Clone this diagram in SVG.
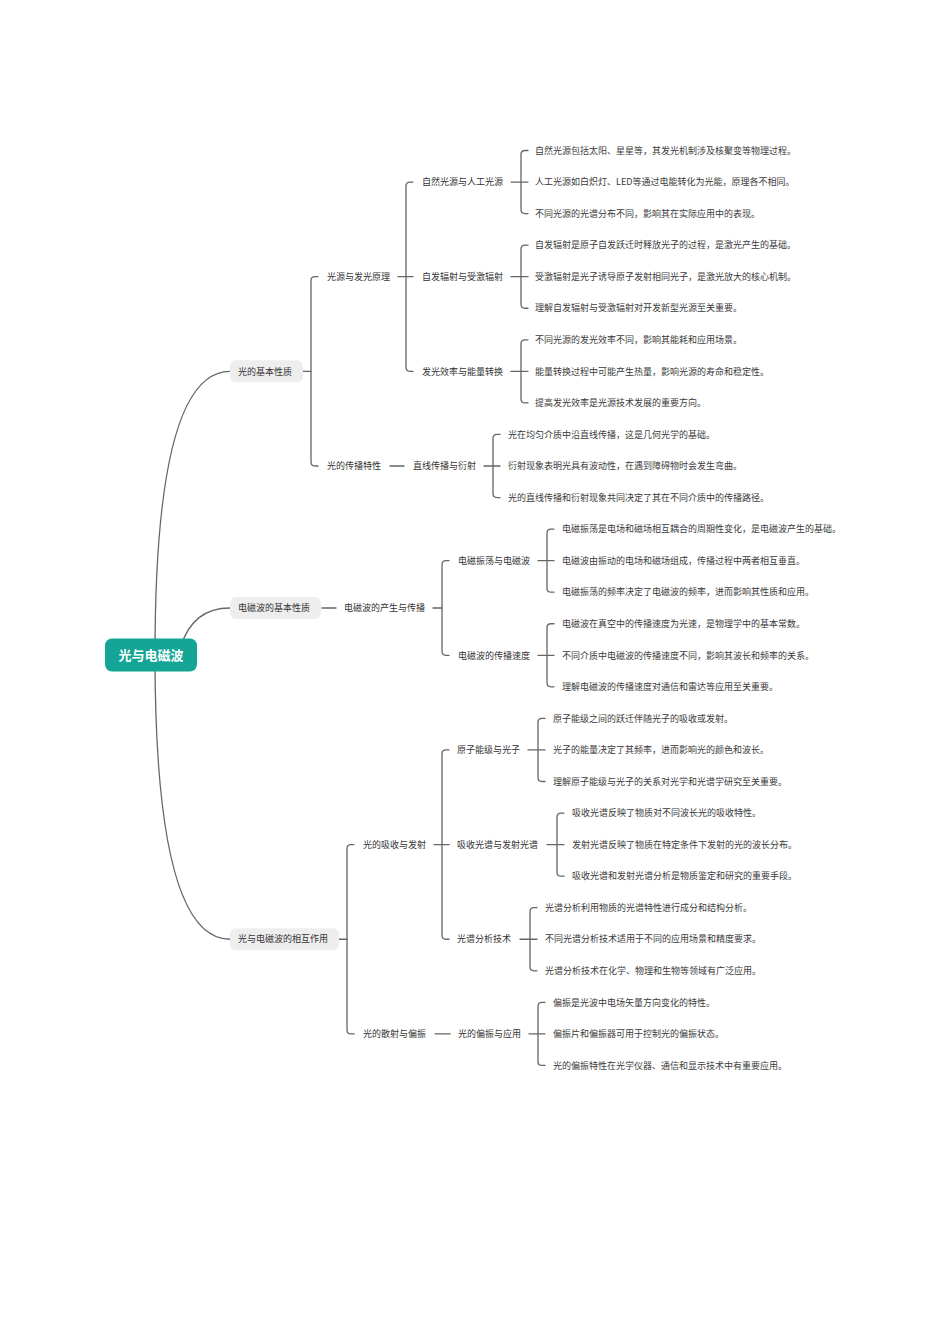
<svg xmlns="http://www.w3.org/2000/svg" width="950" height="1344" viewBox="0 0 950 1344">
<style>
.l{fill:none;stroke:#666;stroke-width:1.3;stroke-linecap:round}
.t{font-family:"Noto Sans CJK SC","Microsoft YaHei",sans-serif;font-size:9px;fill:#333}
.f{font-family:"Noto Sans CJK SC","Microsoft YaHei",sans-serif;font-size:9px;fill:#3a3a3a}
.b1{fill:#eeeeee}
.rt{font-family:"Noto Sans CJK SC","Microsoft YaHei",sans-serif;font-size:13px;font-weight:bold;fill:#fff}
</style>
<rect width="950" height="1344" fill="#fff"/>
<g id="connectors">
<path class="l" d="M155 655 Q155 371.35 230 371.35"/>
<path class="l" d="M181 646 Q193 608 230 608"/>
<path class="l" d="M155 655 Q155 939.25 230 939.25"/>
<path class="l" d="M303 371.35 H311"/>
<path class="l" d="M318 276.7 H315 Q311 276.7 311 280.7 V462 Q311 466 315 466 H318"/>
<path class="l" d="M398 276.7 H413"/>
<path class="l" d="M413 182.05 H410 Q406 182.05 406 186.05 V367.35 Q406 371.35 410 371.35 H413"/>
<path class="l" d="M511 182.05 H528"/>
<path class="l" d="M528 150.5 H525 Q521 150.5 521 154.5 V209.6 Q521 213.6 525 213.6 H528"/>
<path class="l" d="M511 276.7 H528"/>
<path class="l" d="M528 245.15 H525 Q521 245.15 521 249.15 V304.25 Q521 308.25 525 308.25 H528"/>
<path class="l" d="M511 371.35 H528"/>
<path class="l" d="M528 339.8 H525 Q521 339.8 521 343.8 V398.9 Q521 402.9 525 402.9 H528"/>
<path class="l" d="M390 466 H404"/>
<path class="l" d="M484 466 H500"/>
<path class="l" d="M500 434.45 H497 Q493 434.45 493 438.45 V493.55 Q493 497.55 497 497.55 H500"/>
<path class="l" d="M322 608 H336"/>
<path class="l" d="M433 608 H442"/>
<path class="l" d="M449 560.65 H446 Q442 560.65 442 564.65 V651.3 Q442 655.3 446 655.3 H449"/>
<path class="l" d="M538 560.65 H554"/>
<path class="l" d="M554 529.1 H551 Q547 529.1 547 533.1 V588.2 Q547 592.2 551 592.2 H554"/>
<path class="l" d="M538 655.3 H554"/>
<path class="l" d="M554 623.75 H551 Q547 623.75 547 627.75 V682.85 Q547 686.85 551 686.85 H554"/>
<path class="l" d="M339 939.25 H347"/>
<path class="l" d="M354 844.6 H351 Q347 844.6 347 848.6 V1029.9 Q347 1033.9 351 1033.9 H354"/>
<path class="l" d="M434 844.6 H449"/>
<path class="l" d="M449 749.95 H446 Q442 749.95 442 753.95 V935.25 Q442 939.25 446 939.25 H449"/>
<path class="l" d="M528 749.95 H545"/>
<path class="l" d="M545 718.4 H542 Q538 718.4 538 722.4 V777.5 Q538 781.5 542 781.5 H545"/>
<path class="l" d="M547 844.6 H564"/>
<path class="l" d="M564 813.05 H561 Q557 813.05 557 817.05 V872.15 Q557 876.15 561 876.15 H564"/>
<path class="l" d="M520 939.25 H537"/>
<path class="l" d="M537 907.7 H534 Q530 907.7 530 911.7 V966.8 Q530 970.8 534 970.8 H537"/>
<path class="l" d="M435 1033.9 H450"/>
<path class="l" d="M529 1033.9 H545"/>
<path class="l" d="M545 1002.35 H542 Q538 1002.35 538 1006.35 V1061.45 Q538 1065.45 542 1065.45 H545"/>
</g>
<g id="root">
<rect x="105" y="638.5" width="92" height="33" rx="7" fill="#14a596"/>
<text class="rt" x="151" y="659.8" text-anchor="middle">光与电磁波</text>
</g>
<g id="n-b1"><rect class="b1" x="230" y="360.35" width="73" height="22" rx="6"/><text class="t" x="238" y="374.55">光的基本性质</text></g>
<g id="n-b1-1"><text class="t" x="327" y="279.9">光源与发光原理</text></g>
<g id="n-b1-1-1"><text class="t" x="422" y="185.25">自然光源与人工光源</text></g>
<g id="n-b1-1-1-l"><text class="f" x="535" y="153.7">自然光源包括太阳、星星等，其发光机制涉及核聚变等物理过程。</text><text class="f" x="535" y="185.25">人工光源如白炽灯、LED等通过电能转化为光能，原理各不相同。</text><text class="f" x="535" y="216.8">不同光源的光谱分布不同，影响其在实际应用中的表现。</text></g>
<g id="n-b1-1-2"><text class="t" x="422" y="279.9">自发辐射与受激辐射</text></g>
<g id="n-b1-1-2-l"><text class="f" x="535" y="248.35">自发辐射是原子自发跃迁时释放光子的过程，是激光产生的基础。</text><text class="f" x="535" y="279.9">受激辐射是光子诱导原子发射相同光子，是激光放大的核心机制。</text><text class="f" x="535" y="311.45">理解自发辐射与受激辐射对开发新型光源至关重要。</text></g>
<g id="n-b1-1-3"><text class="t" x="422" y="374.55">发光效率与能量转换</text></g>
<g id="n-b1-1-3-l"><text class="f" x="535" y="343">不同光源的发光效率不同，影响其能耗和应用场景。</text><text class="f" x="535" y="374.55">能量转换过程中可能产生热量，影响光源的寿命和稳定性。</text><text class="f" x="535" y="406.1">提高发光效率是光源技术发展的重要方向。</text></g>
<g id="n-b1-2"><text class="t" x="327" y="469.2">光的传播特性</text></g>
<g id="n-b1-2-1"><text class="t" x="413" y="469.2">直线传播与衍射</text></g>
<g id="n-b1-2-1-l"><text class="f" x="508" y="437.65">光在均匀介质中沿直线传播，这是几何光学的基础。</text><text class="f" x="508" y="469.2">衍射现象表明光具有波动性，在遇到障碍物时会发生弯曲。</text><text class="f" x="508" y="500.75">光的直线传播和衍射现象共同决定了其在不同介质中的传播路径。</text></g>
<g id="n-b2"><rect class="b1" x="230" y="597" width="91" height="22" rx="6"/><text class="t" x="238" y="611.2">电磁波的基本性质</text></g>
<g id="n-b2-1"><text class="t" x="344" y="611.2">电磁波的产生与传播</text></g>
<g id="n-b2-1-1"><text class="t" x="458" y="563.85">电磁振荡与电磁波</text></g>
<g id="n-b2-1-1-l"><text class="f" x="562" y="532.3">电磁振荡是电场和磁场相互耦合的周期性变化，是电磁波产生的基础。</text><text class="f" x="562" y="563.85">电磁波由振动的电场和磁场组成，传播过程中两者相互垂直。</text><text class="f" x="562" y="595.4">电磁振荡的频率决定了电磁波的频率，进而影响其性质和应用。</text></g>
<g id="n-b2-1-2"><text class="t" x="458" y="658.5">电磁波的传播速度</text></g>
<g id="n-b2-1-2-l"><text class="f" x="562" y="626.95">电磁波在真空中的传播速度为光速，是物理学中的基本常数。</text><text class="f" x="562" y="658.5">不同介质中电磁波的传播速度不同，影响其波长和频率的关系。</text><text class="f" x="562" y="690.05">理解电磁波的传播速度对通信和雷达等应用至关重要。</text></g>
<g id="n-b3"><rect class="b1" x="230" y="928.25" width="109" height="22" rx="6"/><text class="t" x="238" y="942.45">光与电磁波的相互作用</text></g>
<g id="n-b3-1"><text class="t" x="363" y="847.8">光的吸收与发射</text></g>
<g id="n-b3-1-1"><text class="t" x="457" y="753.15">原子能级与光子</text></g>
<g id="n-b3-1-1-l"><text class="f" x="553" y="721.6">原子能级之间的跃迁伴随光子的吸收或发射。</text><text class="f" x="553" y="753.15">光子的能量决定了其频率，进而影响光的颜色和波长。</text><text class="f" x="553" y="784.7">理解原子能级与光子的关系对光学和光谱学研究至关重要。</text></g>
<g id="n-b3-1-2"><text class="t" x="457" y="847.8">吸收光谱与发射光谱</text></g>
<g id="n-b3-1-2-l"><text class="f" x="572" y="816.25">吸收光谱反映了物质对不同波长光的吸收特性。</text><text class="f" x="572" y="847.8">发射光谱反映了物质在特定条件下发射的光的波长分布。</text><text class="f" x="572" y="879.35">吸收光谱和发射光谱分析是物质鉴定和研究的重要手段。</text></g>
<g id="n-b3-1-3"><text class="t" x="457" y="942.45">光谱分析技术</text></g>
<g id="n-b3-1-3-l"><text class="f" x="545" y="910.9">光谱分析利用物质的光谱特性进行成分和结构分析。</text><text class="f" x="545" y="942.45">不同光谱分析技术适用于不同的应用场景和精度要求。</text><text class="f" x="545" y="974">光谱分析技术在化学、物理和生物等领域有广泛应用。</text></g>
<g id="n-b3-2"><text class="t" x="363" y="1037.1">光的散射与偏振</text></g>
<g id="n-b3-2-1"><text class="t" x="458" y="1037.1">光的偏振与应用</text></g>
<g id="n-b3-2-1-l"><text class="f" x="553" y="1005.55">偏振是光波中电场矢量方向变化的特性。</text><text class="f" x="553" y="1037.1">偏振片和偏振器可用于控制光的偏振状态。</text><text class="f" x="553" y="1068.65">光的偏振特性在光学仪器、通信和显示技术中有重要应用。</text></g>
</svg>
